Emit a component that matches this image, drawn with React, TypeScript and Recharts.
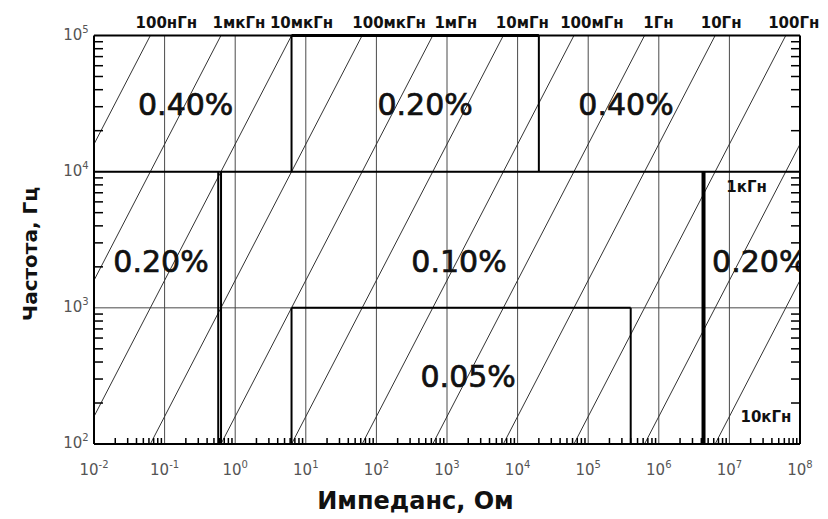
import React from 'react';
import { ComposedChart, Line, XAxis, YAxis, ReferenceLine, ReferenceDot, Scatter } from 'recharts';

// ---- data ----
const xMajorTicks = [1e-2, 1e-1, 1, 1e1, 1e2, 1e3, 1e4, 1e5, 1e6, 1e7, 1e8];
const xTickExponents = ['-2', '-1', '0', '1', '2', '3', '4', '5', '6', '7', '8'];
const yMajorTicks = [1e2, 1e3, 1e4, 1e5];
const yTickExponents = ['2', '3', '4', '5'];
const xMinorTicks = [
  0.02, 0.03, 0.04, 0.05, 0.06, 0.07, 0.08, 0.09,
  0.2, 0.3, 0.4, 0.5, 0.6, 0.7, 0.8, 0.9,
  2, 3, 4, 5, 6, 7, 8, 9,
  20, 30, 40, 50, 60, 70, 80, 90,
  200, 300, 400, 500, 600, 700, 800, 900,
  2e3, 3e3, 4e3, 5e3, 6e3, 7e3, 8e3, 9e3,
  2e4, 3e4, 4e4, 5e4, 6e4, 7e4, 8e4, 9e4,
  2e5, 3e5, 4e5, 5e5, 6e5, 7e5, 8e5, 9e5,
  2e6, 3e6, 4e6, 5e6, 6e6, 7e6, 8e6, 9e6,
  2e7, 3e7, 4e7, 5e7, 6e7, 7e7, 8e7, 9e7,
];
const yMinorTicks = [
  200, 300, 400, 500, 600, 700, 800, 900,
  2e3, 3e3, 4e3, 5e3, 6e3, 7e3, 8e3, 9e3,
  2e4, 3e4, 4e4, 5e4, 6e4, 7e4, 8e4, 9e4,
];

const inductances = [1e-7, 1e-6, 1e-5, 1e-4, 1e-3, 1e-2, 1e-1, 1, 10, 100, 1e3, 1e4];
const inductanceLabels = ['100нГн', '1мкГн', '10мкГн', '100мкГн', '1мГн', '10мГн', '100мГн', '1Гн', '10Гн', '100Гн', '1кГн', '10кГн'];
const sideLabelPoints = [
  { x: 1.75e7, y: 7830, text: '1кГн' },
  { x: 3.3e7, y: 158, text: '10кГн' },
];

const freqBands = [1e2, 1e3, 1e4, 1e5]; // Hz
const upperBandBounds = [6.28, 2e4]; // Ω
const middleBandBounds = [0.575, 0.63, 4.3e6]; // Ω
const lowerBoxBounds = [6.28, 4e5]; // Ω

const accuracyLabels = [
  { x: 0.199, y: 31300, text: '0.40%' },
  { x: 490, y: 31300, text: '0.20%' },
  { x: 3.43e5, y: 31300, text: '0.40%' },
  { x: 0.089, y: 2208, text: '0.20%' },
  { x: 1479, y: 2208, text: '0.10%' },
  { x: 2.69e7, y: 2208, text: '0.20%' },
  { x: 1995, y: 316, text: '0.05%' },
];

const topLabelDx = [16, 18, 10, 27, 23, 19, 18, 14, 6, 8];

// ---- derived ----
const X_MIN = xMajorTicks[0];
const X_MAX = xMajorTicks[xMajorTicks.length - 1];
const Y_MIN = yMajorTicks[0];
const Y_MAX = yMajorTicks[yMajorTicks.length - 1];

const majorIndex = (arr: number[], v: number) =>
  arr.findIndex((m) => Math.abs(Math.log10(m) - Math.log10(v)) < 1e-6);

const inductanceLines = inductances.map((L) => {
  let z1 = 2 * Math.PI * Y_MIN * L, f1 = Y_MIN;
  if (z1 < X_MIN) { z1 = X_MIN; f1 = X_MIN / (2 * Math.PI * L); }
  let z2 = 2 * Math.PI * Y_MAX * L, f2 = Y_MAX;
  if (z2 > X_MAX) { z2 = X_MAX; f2 = X_MAX / (2 * Math.PI * L); }
  return [{ x: z1, y: f1 }, { x: z2, y: f2 }];
});
const topLabelPoints = inductances.slice(0, 10).map((L, i) => ({
  x: 2 * Math.PI * Y_MAX * L,
  y: Y_MAX,
  text: inductanceLabels[i],
  dx: topLabelDx[i],
}));

type Seg = { x1: number; y1: number; x2: number; y2: number; w: number };
const segments: Seg[] = [
  { x1: X_MIN, y1: freqBands[2], x2: X_MAX, y2: freqBands[2], w: 2 },
  { x1: upperBandBounds[0], y1: freqBands[2], x2: upperBandBounds[0], y2: freqBands[3], w: 2 },
  { x1: upperBandBounds[1], y1: freqBands[2], x2: upperBandBounds[1], y2: freqBands[3], w: 2 },
  { x1: upperBandBounds[0], y1: freqBands[3], x2: upperBandBounds[1], y2: freqBands[3], w: 3 },
  { x1: middleBandBounds[0], y1: freqBands[0], x2: middleBandBounds[0], y2: freqBands[2], w: 2 },
  { x1: middleBandBounds[1], y1: freqBands[0], x2: middleBandBounds[1], y2: freqBands[2], w: 2 },
  { x1: middleBandBounds[2], y1: freqBands[0], x2: middleBandBounds[2], y2: freqBands[2], w: 4 },
  { x1: lowerBoxBounds[0], y1: freqBands[0], x2: lowerBoxBounds[0], y2: freqBands[1], w: 2 },
  { x1: lowerBoxBounds[1], y1: freqBands[0], x2: lowerBoxBounds[1], y2: freqBands[1], w: 2 },
  { x1: lowerBoxBounds[0], y1: freqBands[1], x2: lowerBoxBounds[1], y2: freqBands[1], w: 2 },
];

// ---- styling ----
const W = 820;
const H = 511;
const FONT = '"DejaVu Sans", "Liberation Sans", Arial, sans-serif';
const TICK_COLOR = '#555';
const GRID_COLOR = '#4a4a4a';
const MINOR_COLOR = '#000';
const MINOR_X_LEN = 6;
const MINOR_Y_LEN = 9;
const MINOR_W = 1.5;

// tick renderers: majors get a "10^n" label, minors an inward tick mark
const BottomTick = (p: any) => {
  const i = majorIndex(xMajorTicks, p.payload.value);
  if (i < 0) {
    return <rect x={p.x - MINOR_W / 2} y={p.y - MINOR_X_LEN} width={MINOR_W} height={MINOR_X_LEN} fill={MINOR_COLOR} stroke="none" />;
  }
  return (
    <text x={p.x} y={p.y + 31} textAnchor="middle" fontFamily={FONT} fontSize={15} fill={TICK_COLOR}>
      <tspan>10</tspan>
      <tspan dy={-7} fontSize={10}>{xTickExponents[i]}</tspan>
    </text>
  );
};
const TopTick = (p: any) => (
  <rect x={p.x - MINOR_W / 2} y={p.y} width={MINOR_W} height={MINOR_X_LEN} fill={MINOR_COLOR} stroke="none" />
);
const LeftTick = (p: any) => {
  const i = majorIndex(yMajorTicks, p.payload.value);
  if (i < 0) {
    return <rect x={p.x} y={p.y - MINOR_W / 2} width={MINOR_Y_LEN} height={MINOR_W} fill={MINOR_COLOR} stroke="none" />;
  }
  return (
    <text x={p.x - 18} y={p.y + 4} textAnchor="middle" fontFamily={FONT} fontSize={15} fill={TICK_COLOR}>
      <tspan>10</tspan>
      <tspan dy={-7} fontSize={10}>{yTickExponents[i]}</tspan>
    </text>
  );
};
const RightTick = (p: any) => (
  <rect x={p.x - MINOR_Y_LEN} y={p.y - MINOR_W / 2} width={MINOR_Y_LEN} height={MINOR_W} fill={MINOR_COLOR} stroke="none" />
);

const PctShape = (p: any) => (
  <text x={p.cx} y={p.cy} dy="0.36em" textAnchor="middle" fontFamily={FONT} fontSize={30} fill="#111" stroke="#111" strokeWidth={0.7}>
    {p.payload.text}
  </text>
);
const SideLabelShape = (p: any) => (
  <text x={p.cx} y={p.cy} dy="0.36em" textAnchor="middle" fontFamily={FONT} fontWeight="bold" fontSize={15} fill="#111">
    {p.payload.text}
  </text>
);

const xAll = [...xMajorTicks, ...xMinorTicks].sort((a, b) => a - b);
const yAll = [...yMajorTicks, ...yMinorTicks].sort((a, b) => a - b);

export default function App() {
  return (
    <div style={{ position: 'relative', width: W, height: H }}>
      <ComposedChart
        width={W}
        height={H}
        margin={{ top: 17.5, right: 18, bottom: 35, left: 26 }}
        style={{ overflow: 'visible' }}
      >
        <XAxis
          dataKey="x"
          type="number"
          scale="log"
          domain={[X_MIN, X_MAX]}
          allowDataOverflow
          ticks={xAll}
          interval={0}
          minTickGap={-100}
          tickSize={0}
          tickMargin={0}
          tickLine={false}
          axisLine={{ stroke: '#000', strokeWidth: 2 }}
          height={40}
          tick={BottomTick}
        />
        <XAxis
          xAxisId="top"
          orientation="top"
          type="number"
          scale="log"
          domain={[X_MIN, X_MAX]}
          allowDataOverflow
          ticks={xMinorTicks}
          interval={0}
          minTickGap={-100}
          tickSize={0}
          tickMargin={0}
          tickLine={false}
          axisLine={{ stroke: '#000', strokeWidth: 2 }}
          height={10}
          tick={TopTick}
        />
        <YAxis
          dataKey="y"
          type="number"
          scale="log"
          domain={[Y_MIN, Y_MAX]}
          allowDataOverflow
          ticks={yAll}
          interval={0}
          minTickGap={-100}
          tickSize={0}
          tickMargin={0}
          tickLine={false}
          axisLine={{ stroke: '#000', strokeWidth: 2 }}
          width={60}
          tick={LeftTick}
        />
        <YAxis
          yAxisId="right"
          orientation="right"
          type="number"
          scale="log"
          domain={[Y_MIN, Y_MAX]}
          allowDataOverflow
          ticks={yMinorTicks}
          interval={0}
          minTickGap={-100}
          tickSize={0}
          tickMargin={0}
          tickLine={false}
          axisLine={{ stroke: '#000', strokeWidth: 2 }}
          width={10}
          tick={RightTick}
        />

        {xMajorTicks.slice(1, -1).map((v) => (
          <ReferenceLine key={'gx' + v} x={v} stroke={GRID_COLOR} strokeWidth={1} ifOverflow="visible" />
        ))}
        {yMajorTicks.slice(1, -1).map((v) => (
          <ReferenceLine key={'gy' + v} y={v} stroke={GRID_COLOR} strokeWidth={1} ifOverflow="visible" />
        ))}

        {inductanceLines.map((seg, i) => (
          <Line
            key={'L' + i}
            data={seg}
            dataKey="y"
            stroke="#333"
            strokeWidth={1}
            dot={false}
            activeDot={false}
            isAnimationActive={false}
          />
        ))}

        {segments.map((s, i) => (
          <ReferenceLine
            key={'s' + i}
            segment={[{ x: s.x1, y: s.y1 }, { x: s.x2, y: s.y2 }]}
            stroke="#000"
            strokeWidth={s.w}
            ifOverflow="visible"
          />
        ))}

        {topLabelPoints.map((t) => (
          <ReferenceDot
            key={'tl' + t.text}
            x={t.x}
            y={t.y}
            ifOverflow="visible"
            shape={(p: any) => (
              <text x={p.cx + t.dx} y={p.cy - 7.5} textAnchor="middle" fontFamily={FONT} fontWeight="bold" fontSize={15} fill="#111">
                {t.text}
              </text>
            )}
          />
        ))}

        <Scatter data={accuracyLabels} dataKey="y" shape={(p: any) => <PctShape {...p} />} isAnimationActive={false} />
        <Scatter data={sideLabelPoints} dataKey="y" shape={(p: any) => <SideLabelShape {...p} />} isAnimationActive={false} />
      </ComposedChart>
      <svg
        width={W}
        height={H}
        style={{ position: 'absolute', left: 0, top: 0, pointerEvents: 'none', overflow: 'visible' }}
      >
        <text x={407.5} y={501} textAnchor="middle" fontFamily={FONT} fontWeight="bold" fontSize={24} fill="#111">
          Импеданс, Ом
        </text>
        <text
          x={0}
          y={0}
          transform="translate(29 246) rotate(-90)"
          textAnchor="middle"
          fontFamily={FONT}
          fontWeight="bold"
          fontSize={20}
          fill="#111"
        >
          Частота, Гц
        </text>
      </svg>
    </div>
  );
}
